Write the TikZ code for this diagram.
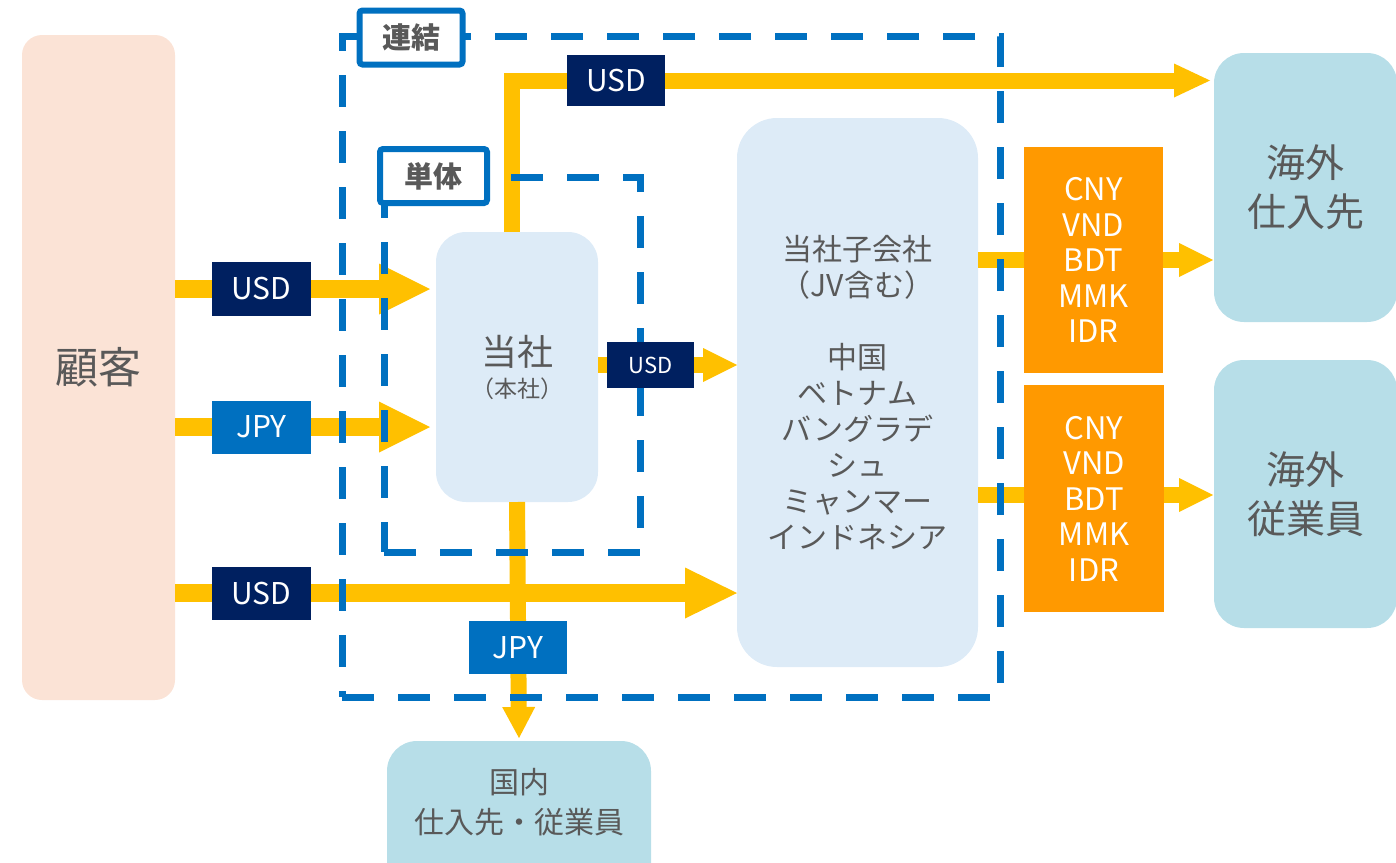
\documentclass[tikz,border=0pt]{standalone}
\usepackage{fontspec}
\setmainfont{Noto Sans CJK JP}
\usetikzlibrary{arrows.meta}
\definecolor{cYellow}{HTML}{FFC000}
\definecolor{cNavy}{HTML}{002060}
\definecolor{cBlue}{HTML}{0070C0}
\definecolor{cOrange}{HTML}{FF9900}
\definecolor{cPeach}{HTML}{FBE3D6}
\definecolor{cLight}{HTML}{DDEBF7}
\definecolor{cTeal}{HTML}{B7DEE8}
\definecolor{cText}{HTML}{595959}
\newcommand{\fsz}[2]{\fontsize{#1pt}{#2pt}\selectfont}
\begin{document}
\begin{tikzpicture}[x=1pt,y=-1pt,
  box/.style={inner sep=0pt, outer sep=0pt, text=cText, align=center},
  tag/.style={inner sep=0pt, outer sep=0pt, text=white, align=center, font=\fsz{30}{34}},
  flowA/.style={draw=cYellow, line width=18pt, -{Triangle[length=51pt,width=51pt,line width=0pt,fill=cYellow]}},
  flowB/.style={draw=cYellow, line width=16pt, -{Triangle[length=34pt,width=34pt,line width=0pt,fill=cYellow]}},
  flowC/.style={draw=cYellow, line width=16pt, -{Triangle[length=31pt,width=33pt,line width=0pt,fill=cYellow]}},
  dashbox/.style={draw=cBlue, line width=7pt, dash pattern=on 32pt off 24pt, inner sep=0pt, outer sep=0pt},
  grouplabel/.style={box, draw=cBlue, line width=6pt, fill=white, rounded corners=3pt, font=\bfseries\fsz{29}{32}}
]
\useasboundingbox (0,0) rectangle (1396,862);

% main boxes
\node[box, fill=cPeach, rounded corners=20pt, minimum width=153pt, minimum height=665pt, font=\fsz{43}{48}] (cust) at (98.5,367.5) {顧客};
\node[box, fill=cLight, rounded corners=30pt, minimum width=162pt, minimum height=270pt] (hq) at (517,367) {};
\node[box, font=\fsz{36}{40}] (hqt) at (517,352) {当社};
\node[box, font=\fsz{23}{26}] (hqs) at (517,389) {（本社）};
\node[box, fill=cLight, rounded corners=40pt, minimum width=241pt, minimum height=549pt, font=\fsz{30}{36}] (sub) at (857.5,392.5)
  {当社子会社\\（JV含む）\\[36pt]中国\\ベトナム\\バングラデ\\シュ\\ミャンマー\\インドネシア};
\node[box, fill=cTeal, rounded corners=30pt, minimum width=183pt, minimum height=269pt, font=\fsz{39}{49}] (os1) at (1305.5,187.5) {海外\\仕入先};
\node[box, fill=cTeal, rounded corners=30pt, minimum width=183pt, minimum height=268pt, font=\fsz{39}{49}] (os2) at (1305.5,494) {海外\\従業員};
\node[box, fill=cTeal, rounded corners=30pt, minimum width=264pt, minimum height=160pt] (dom) at (519,821) {};
\node[box, font=\fsz{30}{40}] (domt) at (519,802) {国内\\仕入先・従業員};

% label anchor points
\coordinate (rU1) at (261.5,289);
\coordinate (rJ1) at (261.5,427);
\coordinate (rU2) at (261.5,593);
\coordinate (rUt) at (616,80.5);
\coordinate (rUm) at (650.5,365);
\coordinate (rJd) at (518,647.5);
\coordinate (rR1) at (1094,260);
\coordinate (rR2) at (1094,495);

% flows
\draw[flowA] (cust.east |- rU1) -- ([xshift=-6pt]hq.west |- rU1);
\draw[flowA] (cust.east |- rJ1) -- ([xshift=-6pt]hq.west |- rJ1);
\draw[flowA, -{Triangle[length=52pt,width=51pt,line width=0pt,fill=cYellow]}] (cust.east |- rU2) -- (sub.west |- rU2);
\draw[flowB] (hq.east |- rUm) -- (sub.west |- rUm);
\draw[flowB, line join=miter, -{Triangle[length=36pt,width=34pt,line width=0pt,fill=cYellow]}] ([xshift=-5pt]hq.north) |- ([xshift=-4pt]os1.west |- rUt);
\draw[flowC] (hq.south) -- ([yshift=3pt]dom.north);
\draw[flowB] (sub.east |- rR1) -- ([xshift=-1pt]os1.west |- rR1);
\draw[flowB] (sub.east |- rR2) -- ([xshift=-1pt]os2.west |- rR2);

% currency boxes
\node[tag, fill=cOrange, minimum width=139pt, minimum height=226pt, font=\fsz{31}{35.5}] (cur1) at (1093.5,260) {CNY\\VND\\BDT\\MMK\\IDR};
\node[tag, fill=cOrange, minimum width=140pt, minimum height=227pt, font=\fsz{31}{35.5}] (cur2) at (1094,498.5) {CNY\\VND\\BDT\\MMK\\IDR};

% dashed groups
\node[dashbox, minimum width=658pt, minimum height=661pt] (cons) at (671,366.5) {};
\node[dashbox, minimum width=256pt, minimum height=375pt] (solo) at (512,364.5) {};
\node[grouplabel, minimum width=103pt, minimum height=54pt] (consl) at (411,37.5) {連結};
\node[grouplabel, minimum width=107pt, minimum height=54pt] (solol) at (433.5,176) {単体};

% currency tags
\node[tag, fill=cNavy, minimum width=99pt, minimum height=54pt] (tU1) at (rU1) {USD};
\node[tag, fill=cBlue, minimum width=99pt, minimum height=53pt] (tJ1) at (rJ1) {JPY};
\node[tag, fill=cNavy, minimum width=99pt, minimum height=53pt] (tU2) at (rU2) {USD};
\node[tag, fill=cNavy, minimum width=98pt, minimum height=51pt] (tUt) at (rUt) {USD};
\node[tag, fill=cNavy, minimum width=87pt, minimum height=46pt, font=\fsz{22}{26}] (tUm) at (rUm) {USD};
\node[tag, fill=cBlue, minimum width=98pt, minimum height=53pt] (tJd) at (rJd) {JPY};
\end{tikzpicture}
\end{document}
